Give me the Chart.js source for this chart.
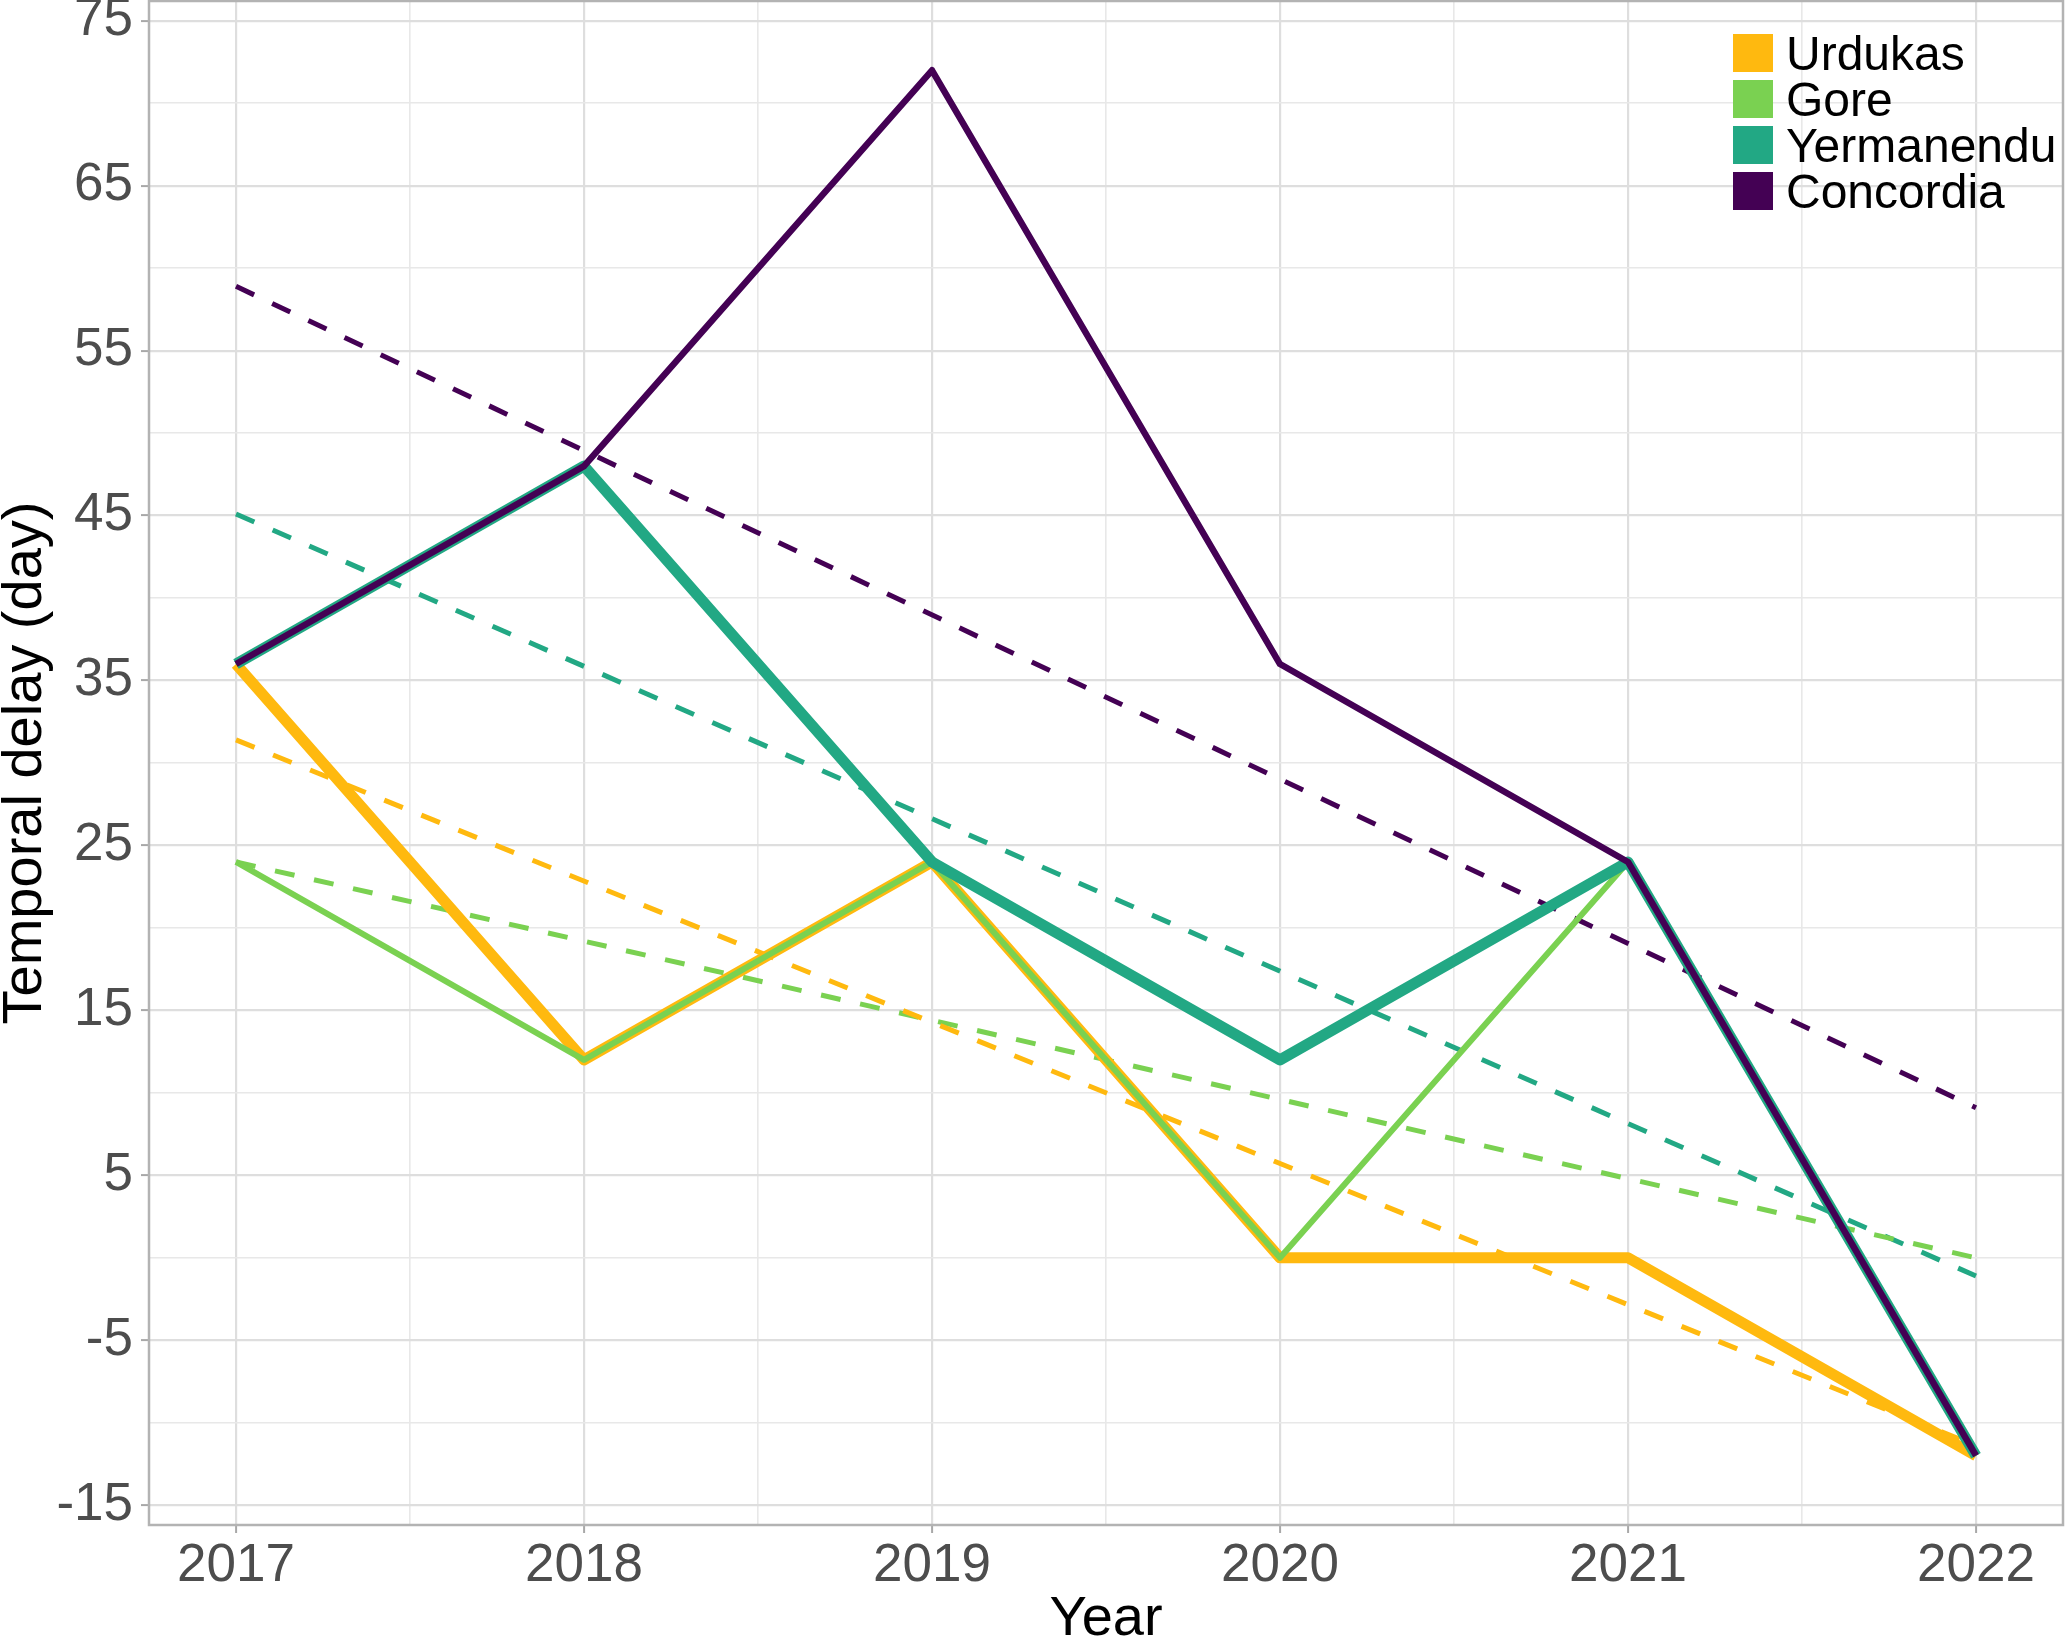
<!DOCTYPE html>
<html>
<head>
<meta charset="utf-8">
<script src="https://cdn.jsdelivr.net/npm/chart.js@4.4.1/dist/chart.umd.min.js"></script>
<style>
  html, body { margin: 0; padding: 0; background: #fff; }
  #wrap { position: relative; width: 2067px; height: 1638px; }
  #legend { position: absolute; left: 1733px; top: 30px; font-family: "Liberation Sans", Arial, sans-serif; font-size: 48px; color: #000; }
  .row { display: flex; align-items: center; height: 46px; white-space: nowrap; }
  .box { width: 40px; height: 38px; margin-right: 13px; flex: none; }
</style>
</head>
<body>
<div id="wrap">
  <canvas id="chart" width="2067" height="1638"></canvas>
  <div id="legend"></div>
</div>
<script>
const years = [2017, 2018, 2019, 2020, 2021, 2022];
const sites = ['Urdukas', 'Gore', 'Yermanendu', 'Concordia'];
const urdukas = [36, 12, 24, 0, 0, -12];
const gore = [24, 12, 24, 0, 24, -12];
const yermanendu = [36, 48, 24, 12, 24, -12];
const concordia = [36, 48, 72, 36, 24, -12];

// dashed trend lines: value at first and last year
const trendYears = [2017, 2022];
const urdukasTrend = [31.4, -11.4];
const goreTrend = [24, 0];
const yermanenduTrend = [45.1, -1.1];
const concordiaTrend = [58.9, 9.1];

const yTickLabels = [-15, -5, 5, 15, 25, 35, 45, 55, 65, 75];
const xTickLabels = years;

const colors = ['#FFB90F', '#7AD151', '#22A884', '#440154'];
const widths = [11, 6, 11, 6.5];
const FONT = '"Liberation Sans", Arial, sans-serif';

const series = [urdukas, gore, yermanendu, concordia];
const trends = [urdukasTrend, goreTrend, yermanenduTrend, concordiaTrend];

// major ticks plus minor ones halfway between
function withMinor(ticks) {
  const out = [];
  ticks.forEach((t, i) => {
    out.push({ value: t, major: true });
    if (i < ticks.length - 1) out.push({ value: (t + ticks[i + 1]) / 2, major: false });
  });
  return out;
}

const datasets = [];
trends.forEach((t, i) => {
  datasets.push({
    label: sites[i] + ' trend',
    data: trendYears.map((x, j) => ({ x, y: t[j] })),
    borderColor: colors[i],
    borderWidth: 5,
    borderDash: [20, 20],
    borderCapStyle: 'butt',
    pointRadius: 0,
    order: 10
  });
});
series.forEach((s, i) => {
  datasets.push({
    label: sites[i],
    data: years.map((x, j) => ({ x, y: s[j] })),
    borderColor: colors[i],
    borderWidth: widths[i],
    borderCapStyle: 'butt',
    borderJoinStyle: 'round',
    pointRadius: 0,
    order: 4 - i
  });
});

const panelBorder = {
  id: 'panelBorder',
  afterDraw(chart) {
    const { ctx, chartArea: a } = chart;
    ctx.save();
    ctx.strokeStyle = '#B3B3B3';
    ctx.lineWidth = 2.5;
    ctx.strokeRect(a.left, a.top, a.right - a.left, a.bottom - a.top);
    ctx.restore();
  }
};

const gridColor = c => c.tick && c.tick.major ? '#DEDEDE' : '#E8E8E8';
const gridWidth = c => c.tick && c.tick.major ? 2.2 : 1.6;
const tickColor = c => c.tick && c.tick.major ? '#A8A8A8' : 'rgba(0,0,0,0)';

function noEdgePadding(s) {
  s.paddingTop = 0;
  s.paddingBottom = 0;
  s.paddingLeft = 0;
  s.paddingRight = 0;
}

new Chart(document.getElementById('chart').getContext('2d'), {
  type: 'line',
  data: { datasets },
  plugins: [panelBorder],
  options: {
    responsive: false,
    animation: false,
    devicePixelRatio: 1,
    layout: { padding: { top: 1, right: 4, left: 0, bottom: 0 } },
    plugins: { legend: { display: false }, tooltip: { enabled: false } },
    scales: {
      x: {
        type: 'linear',
        min: 2016.75,
        max: 2022.25,
        afterBuildTicks: s => { s.ticks = withMinor(xTickLabels); },
        afterFit: s => { s.height = 113; noEdgePadding(s); },
        border: { display: false },
        grid: { color: gridColor, lineWidth: gridWidth, tickColor, tickWidth: 2, tickLength: 8 },
        ticks: {
          autoSkip: false,
          maxRotation: 0,
          padding: 2,
          color: '#4D4D4D',
          font: { family: FONT, size: 53 },
          callback: (v, i, t) => t[i].major ? String(v) : ''
        },
        title: { display: true, text: 'Year', color: '#000', font: { family: FONT, size: 56, lineHeight: 0.65 }, padding: 0 }
      },
      y: {
        min: -16.2,
        max: 76.2,
        afterBuildTicks: s => { s.ticks = withMinor(yTickLabels); },
        afterFit: s => { s.width = 149; noEdgePadding(s); },
        border: { display: false },
        grid: { color: gridColor, lineWidth: gridWidth, tickColor, tickWidth: 2, tickLength: 8 },
        ticks: {
          autoSkip: false,
          padding: 8,
          color: '#4D4D4D',
          font: { family: FONT, size: 53 },
          callback: (v, i, t) => t[i].major ? String(v) : ''
        },
        title: { display: true, text: 'Temporal delay (day)', color: '#000', font: { family: FONT, size: 56, lineHeight: 0.92 }, padding: 0 }
      }
    }
  }
});

const legend = document.getElementById('legend');
sites.forEach((name, i) => {
  const row = document.createElement('div');
  row.className = 'row';
  const box = document.createElement('div');
  box.className = 'box';
  box.style.background = colors[i];
  const label = document.createElement('span');
  label.textContent = name;
  row.appendChild(box);
  row.appendChild(label);
  legend.appendChild(row);
});
</script>
</body>
</html>
